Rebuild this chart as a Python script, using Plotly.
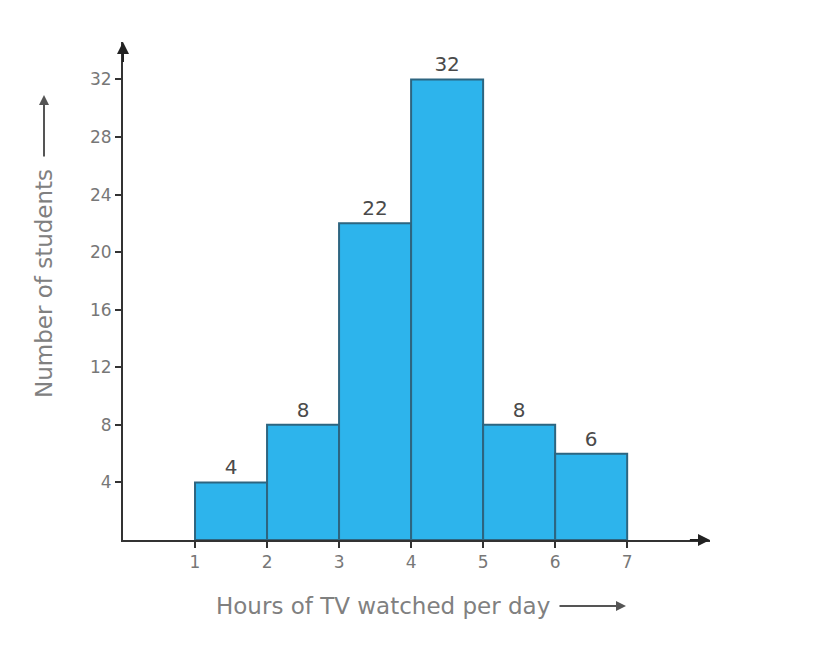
import plotly.graph_objects as go

# Histogram data: hours of TV watched per day vs number of students
bin_starts = [1, 2, 3, 4, 5, 6]
bin_width = 1
students = [4, 8, 22, 32, 8, 6]
x_ticks = [1, 2, 3, 4, 5, 6, 7]
y_ticks = [4, 8, 12, 16, 20, 24, 28, 32]

x_max = 8.15
y_max = 34.6

fig = go.Figure()
fig.add_trace(go.Bar(
    x=[s + bin_width / 2 for s in bin_starts],
    y=students,
    width=bin_width,
    text=[str(v) for v in students],
    textposition="outside",
    textfont=dict(size=20, color="#4a4a4a", family="DejaVu Sans"),
    cliponaxis=False,
    marker=dict(color="#2db4ec", line=dict(color="#2d6580", width=2)),
    showlegend=False,
))

axis_common = dict(
    showgrid=False, zeroline=False, showline=True,
    linecolor="#333333", linewidth=2,
    ticks="outside", ticklen=6, tickwidth=2, tickcolor="#333333",
    tickfont=dict(size=17, color="#777777", family="DejaVu Sans"),
)

fig.update_layout(
    width=825, height=647,
    margin=dict(l=123, r=115, t=42, b=107),
    paper_bgcolor="white", plot_bgcolor="white",
    xaxis=dict(range=[0, x_max], tickvals=x_ticks, **axis_common),
    yaxis=dict(range=[0, y_max], tickvals=y_ticks, **axis_common),
)

# Arrowheads at the ends of both axes
fig.add_annotation(x=x_max, y=0, ax=x_max - 0.3, ay=0, xref="x", yref="y",
                   axref="x", ayref="y", showarrow=True, arrowhead=2,
                   arrowsize=1.2, arrowwidth=2, arrowcolor="#222222", text="")
fig.add_annotation(x=0, y=y_max, ax=0, ay=y_max - 1.5, xref="x", yref="y",
                   axref="x", ayref="y", showarrow=True, arrowhead=2,
                   arrowsize=1.2, arrowwidth=2, arrowcolor="#222222", text="")

# Axis titles with direction arrows
title_font = dict(size=23, color="#808080", family="DejaVu Sans")
title_y = -(606 - 540) / 498
title_x = -(123 - 44) / 587
fig.add_annotation(text="Hours of TV watched per day", xref="paper", yref="paper",
                   x=(383 - 123) / 587, y=title_y, showarrow=False,
                   font=title_font, xanchor="center", yanchor="middle")
fig.add_annotation(x=(626 - 123) / 587, y=title_y, ax=-68, ay=0,
                   xref="paper", yref="paper",
                   showarrow=True, arrowhead=2, arrowsize=1, arrowwidth=2,
                   arrowcolor="#555555", text="")
fig.add_annotation(text="Number of students", xref="paper", yref="paper",
                   x=title_x, y=(540 - 284) / 498, textangle=-90,
                   showarrow=False, font=title_font,
                   xanchor="center", yanchor="middle")
fig.add_annotation(x=title_x, y=(540 - 95) / 498, ax=0, ay=63,
                   xref="paper", yref="paper",
                   showarrow=True, arrowhead=2, arrowsize=1, arrowwidth=2,
                   arrowcolor="#555555", text="")

fig.write_html("out.html")
